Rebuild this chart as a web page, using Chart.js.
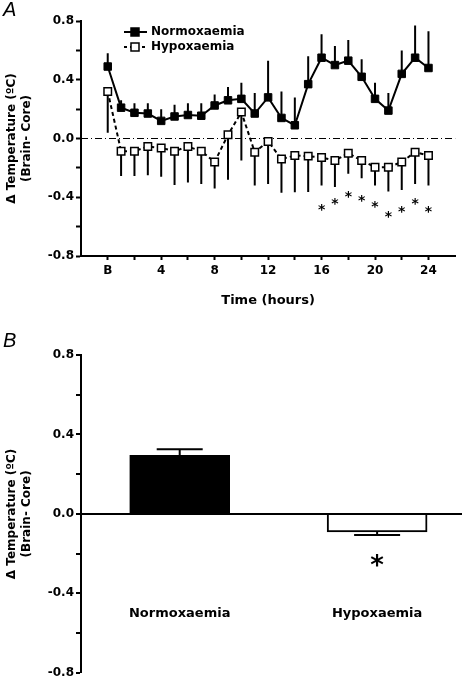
<!DOCTYPE html>
<html>
<head>
<meta charset="utf-8">
<script src="https://cdn.jsdelivr.net/npm/chart.js@4.4.0/dist/chart.umd.min.js"></script>
<style>
body { margin: 0; background: #fff; }
.panel { position: absolute; left: 0; width: 462px; }
.tag { position: absolute; left: 3px; font: italic 20px "Liberation Sans", Arial, sans-serif; color: #000; }
</style>
</head>
<body>
<div class="panel" style="top:0;height:320px"><canvas id="chartA" width="462" height="320"></canvas></div>
<div class="tag" style="top:-2px">A</div>
<div class="panel" style="top:330px;height:352px"><canvas id="chartB" width="462" height="352"></canvas></div>
<div class="tag" style="top:329px">B</div>
<script>
// panel A: hourly brain-core difference
var hours = [0,1,2,3,4,5,6,7,8,9,10,11,12,13,14,15,16,17,18,19,20,21,22,23,24];
var normMean = [0.49,0.21,0.175,0.17,0.12,0.15,0.16,0.155,0.225,0.26,0.27,0.17,0.28,0.14,0.09,0.37,0.55,0.50,0.53,0.42,0.27,0.19,0.44,0.55,0.48];
var normSem  = [0.09,0.05,0.065,0.07,0.08,0.08,0.08,0.085,0.075,0.09,0.11,0.14,0.25,0.18,0.19,0.19,0.16,0.13,0.14,0.12,0.11,0.12,0.16,0.22,0.25];
var hypoMean = [0.32,-0.086,-0.086,-0.055,-0.064,-0.086,-0.055,-0.086,-0.16,0.025,0.18,-0.093,-0.02,-0.14,-0.116,-0.12,-0.13,-0.15,-0.10,-0.15,-0.195,-0.195,-0.16,-0.093,-0.116];
var hypoSem  = [0.28,0.17,0.17,0.195,0.196,0.23,0.245,0.224,0.18,0.305,0.33,0.227,0.29,0.23,0.25,0.245,0.19,0.18,0.14,0.12,0.125,0.165,0.19,0.217,0.204];
var sigHours = [16,17,18,19,20,21,22,23,24];
var sigY     = [-0.47,-0.43,-0.38,-0.41,-0.45,-0.52,-0.48,-0.43,-0.48];

// panel B: overall means
var groups = ['Normoxaemia', 'Hypoxaemia'];
var groupMean = [0.295, -0.091];
var groupSem = [0.03, 0.015];
var groupSig = [false, true];

Chart.defaults.font.family = 'DejaVu Sans';
Chart.defaults.color = '#000';

var tickFont = { size: 12, weight: 'bold' };

function yTickLabel(v) {
    return Math.round(v * 10) % 4 === 0 ? v.toFixed(1) : '';
}

function yAxis() {
    return {
        min: -0.8, max: 0.8,
        afterFit: function(s) { s.width = 81; },
        ticks: { stepSize: 0.2, font: tickFont, padding: 2, callback: yTickLabel },
        grid: { drawOnChartArea: false, tickLength: 5, tickWidth: 2, tickColor: '#000' },
        border: { color: '#000', width: 2 },
        title: {
            display: true,
            text: ['\u0394 Temperature (\u00baC)', '(Brain- Core)'],
            font: { size: 12, weight: 'bold', lineHeight: 1.25 },
            padding: { top: 4, bottom: 0 }
        }
    };
}

function drawStar(ctx, x, cy, font) {
    ctx.font = font;
    var m = ctx.measureText('*');
    ctx.textAlign = 'center';
    ctx.textBaseline = 'alphabetic';
    ctx.fillText('*', x, cy + (m.actualBoundingBoxAscent - m.actualBoundingBoxDescent) / 2);
}

var panelA = {
    id: 'panelA',
    beforeDatasetsDraw: function(chart) {
        var ctx = chart.ctx, x = chart.scales.x, y = chart.scales.y, a = chart.chartArea;
        ctx.save();
        // dash-dot zero line
        ctx.strokeStyle = '#000';
        ctx.lineWidth = 1;
        ctx.setLineDash([7, 3, 1, 3]);
        ctx.beginPath();
        ctx.moveTo(a.left, y.getPixelForValue(0));
        ctx.lineTo(a.right, y.getPixelForValue(0));
        ctx.stroke();
        ctx.setLineDash([]);
        // one-sided error bars
        ctx.lineWidth = 2;
        hours.forEach(function(h, i) {
            var px = x.getPixelForValue(h);
            ctx.beginPath();
            ctx.moveTo(px, y.getPixelForValue(normMean[i]));
            ctx.lineTo(px, y.getPixelForValue(normMean[i] + normSem[i]));
            ctx.moveTo(px, y.getPixelForValue(hypoMean[i]));
            ctx.lineTo(px, y.getPixelForValue(hypoMean[i] - hypoSem[i]));
            ctx.stroke();
        });
        ctx.restore();
    },
    afterDraw: function(chart) {
        var ctx = chart.ctx, x = chart.scales.x, y = chart.scales.y;
        ctx.save();
        ctx.fillStyle = '#000';
        sigHours.forEach(function(h, i) {
            drawStar(ctx, x.getPixelForValue(h), y.getPixelForValue(sigY[i]), 'bold 14px "DejaVu Sans"');
        });
        // legend
        chart.data.datasets.forEach(function(ds, i) {
            var ly = 32 + i * 15;
            ctx.strokeStyle = '#000';
            ctx.lineWidth = 2;
            ctx.setLineDash(i === 0 ? [] : [3, 3]);
            ctx.beginPath();
            ctx.moveTo(124, ly);
            ctx.lineTo(147, ly);
            ctx.stroke();
            ctx.setLineDash([]);
            ctx.fillStyle = ds.pointBackgroundColor;
            ctx.fillRect(131, ly - 4, 8, 8);
            ctx.lineWidth = 1.5;
            ctx.strokeRect(131, ly - 4, 8, 8);
            ctx.fillStyle = '#000';
            ctx.font = 'bold 12px "DejaVu Sans"';
            ctx.textAlign = 'left';
            ctx.textBaseline = 'middle';
            ctx.fillText(ds.label, 151, ly);
        });
        ctx.restore();
    }
};

new Chart(document.getElementById('chartA'), {
    type: 'line',
    data: {
        datasets: [{
            label: 'Normoxaemia',
            data: hours.map(function(h, i) { return { x: h, y: normMean[i] }; }),
            borderColor: '#000',
            borderWidth: 2,
            pointStyle: 'rect',
            pointRadius: 5.3,
            pointBackgroundColor: '#000',
            pointBorderColor: '#000',
            pointBorderWidth: 1
        }, {
            label: 'Hypoxaemia',
            data: hours.map(function(h, i) { return { x: h, y: hypoMean[i] }; }),
            borderColor: '#000',
            borderWidth: 2,
            borderDash: [4, 3],
            pointStyle: 'rect',
            pointRadius: 5.3,
            pointBackgroundColor: '#fff',
            pointBorderColor: '#000',
            pointBorderWidth: 1.5
        }]
    },
    options: {
        responsive: false,
        animation: false,
        layout: { padding: { top: 21, right: 3, left: 0, bottom: 0 } },
        plugins: { legend: { display: false }, tooltip: { enabled: false } },
        scales: {
            x: {
                type: 'linear', min: -2, max: 26,
                afterBuildTicks: function(s) {
                    s.ticks = s.ticks.filter(function(t) { return t.value >= 0 && t.value <= 24; });
                },
                afterFit: function(s) { s.height = 64; },
                ticks: {
                    stepSize: 2, autoSkip: false, maxRotation: 0, font: tickFont, padding: 4,
                    callback: function(v) { return v === 0 ? 'B' : (v % 4 === 0 ? String(v) : ''); }
                },
                grid: { drawOnChartArea: false, tickLength: 4, tickWidth: 2, tickColor: '#000' },
                border: { color: '#000', width: 2 },
                title: { display: true, text: 'Time (hours)', font: { size: 13, weight: 'bold' }, padding: { top: 0, bottom: 12 } }
            },
            y: yAxis()
        }
    },
    plugins: [panelA]
});

var panelB = {
    id: 'panelB',
    afterDatasetsDraw: function(chart) {
        var ctx = chart.ctx, x = chart.scales.x, y = chart.scales.y;
        ctx.save();
        ctx.strokeStyle = '#000';
        ctx.fillStyle = '#000';
        ctx.lineWidth = 2;
        groups.forEach(function(g, i) {
            var px = x.getPixelForValue(i);
            var dir = groupMean[i] >= 0 ? 1 : -1;
            var end = y.getPixelForValue(groupMean[i] + dir * groupSem[i]);
            ctx.beginPath();
            ctx.moveTo(px, y.getPixelForValue(groupMean[i]));
            ctx.lineTo(px, end);
            ctx.moveTo(px - 23, end);
            ctx.lineTo(px + 23, end);
            ctx.stroke();
            ctx.font = 'bold 13px "DejaVu Sans"';
            ctx.textAlign = 'center';
            ctx.textBaseline = 'middle';
            ctx.fillText(g, px, y.getPixelForValue(-0.5));
            if (groupSig[i]) {
                drawStar(ctx, px, y.getPixelForValue(-0.27), 'bold 26px "DejaVu Sans"');
            }
        });
        ctx.restore();
    }
};

var yB = yAxis();
yB.grid = {
    drawOnChartArea: true,
    color: function(c) { return c.tick && Math.abs(c.tick.value) < 1e-9 ? '#000' : 'rgba(0,0,0,0)'; },
    lineWidth: function(c) { return c.tick && Math.abs(c.tick.value) < 1e-9 ? 2 : 0; },
    tickLength: 5, tickWidth: 2, tickColor: '#000'
};

new Chart(document.getElementById('chartB'), {
    type: 'bar',
    data: {
        datasets: [{
            label: 'Mean',
            data: groups.map(function(g, i) { return { x: i, y: groupMean[i] }; }),
            backgroundColor: ['#000', '#fff'],
            borderColor: '#000',
            borderWidth: 2,
            barThickness: 100
        }]
    },
    options: {
        responsive: false,
        animation: false,
        layout: { padding: { top: 25, right: 0, left: 0, bottom: 5 } },
        plugins: { legend: { display: false }, tooltip: { enabled: false } },
        scales: {
            x: { type: 'linear', display: false, offset: false, min: -0.5, max: 1.43 },
            y: yB
        }
    },
    plugins: [panelB]
});
</script>
</body>
</html>
